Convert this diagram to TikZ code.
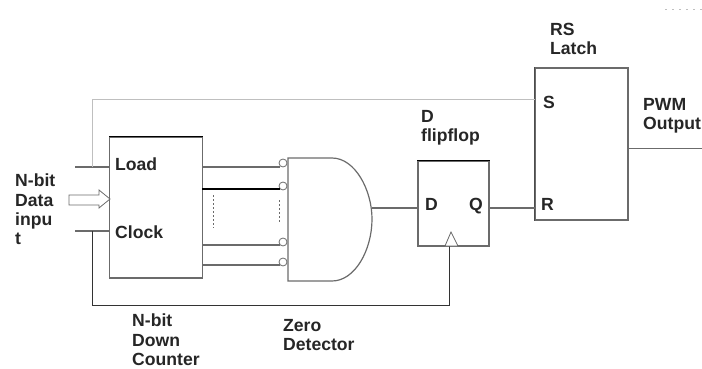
\documentclass[tikz,border=0pt]{standalone}
\usepackage{fontspec}
\setmainfont{Liberation Sans}
\definecolor{wire}{gray}{0.42}
\definecolor{palewire}{gray}{0.75}
\tikzset{
  block/.style = {draw = wire, line width = 1.2pt, minimum width = #1, inner sep = 0pt},
  label/.style = {font = \fontsize{17.6}{19.3}\selectfont\bfseries, align = left, anchor = west, inner sep = 0pt, text = black!85},
  link/.style = {draw = wire, line width = 1.2pt},
  bubble/.style = {circle, draw = wire, fill = white, minimum size = 8pt, inner sep = 0pt, line width = 0.8pt}
}
\begin{document}
\begin{tikzpicture}[x = 1pt, y = -1pt]
      \useasboundingbox (0, 0) rectangle (702, 369);
      \node [block = 92.5pt, minimum height = 141pt] (counter) at (156, 207.5) {};
      \node [block = 71pt, minimum height = 85pt] (flipflop) at (453.5, 203.5) {};
      \node [block = 93pt, minimum height = 152pt] (latch) at (581.5, 144) {};
      \draw [link] (288, 158) coordinate (gatetop) -- (332, 158)
        .. controls (355, 158) and (372, 190) .. (372, 219)
        .. controls (372, 250) and (355, 281) .. (332, 281) -- (288, 281) coordinate (gatebottom) -- cycle;
      \draw [black, line width = 1pt] (counter.north west) -- (counter.north east);
      \draw [black, line width = 1.4pt] (flipflop.north west) -- (flipflop.north east);
      \draw [black!70, line width = 1.4pt] (latch.north west) -- (latch.south west);
      \foreach \name/\y in {one/163, two/186, three/242, four/262}
        \node [bubble] (\name) at (283, \y) {};
      \coordinate (loadpin) at (109.5, 167);
      \coordinate (clockpin) at (109.5, 231);
      \coordinate (loadend) at (75, 167);
      \coordinate (clockend) at (75, 231);
      \coordinate (fbtop) at (92, 100);
      \coordinate (fbbottom) at (92, 305);
      \coordinate (setpin) at (535, 100);
      \coordinate (gateout) at (372, 208);
      \coordinate (dpin) at (418, 208);
      \coordinate (qpin) at (489, 208);
      \coordinate (rpin) at (535, 208);
      \coordinate (outpin) at (628, 148);
      \coordinate (outend) at (702, 148);
      \coordinate (clkpin) at (449, 246);
      \draw [link] (loadend) -- (loadpin);
      \draw [link] (clockend) -- (clockpin);
      \draw [link] (202, 167) -- (one.south west |- 0, 167);
      \draw [black, line width = 1.2pt] (202, 189) -- (two.south west |- 0, 189);
      \draw [link] (202, 245) -- (three.south west |- 0, 245);
      \draw [link] (202, 265) -- (four.south west |- 0, 265);
      \draw [palewire, line width = 1pt] (fbbottom |- loadend) -- (fbtop) -- (setpin);
      \draw [black!80, line width = 0.8pt] (fbbottom |- clockend) -- (fbbottom) -- (fbbottom -| clkpin) -- (clkpin);
      \draw [link] (gateout) -- (dpin);
      \draw [link] (qpin) -- (rpin);
      \draw [link, line width = 0.7pt] (outpin) -- (outend);
      \draw [fill = white, draw = wire, line width = 0.8pt] (445, 246) -- (451, 232) -- (458, 246) -- cycle;
      \draw [draw = wire, line width = 0.8pt] (69, 195) -- (99, 195) -- (99, 190) -- (110, 199) -- (99, 208) -- (99, 205) -- (69, 205) -- cycle;
      \draw [dash pattern = on 2pt off 2pt, wire, line width = 1pt] (213, 195) -- (213, 228);
      \draw [dash pattern = on 2pt off 2pt, wire, line width = 1pt] (279, 200) -- (279, 223);
      \draw [dash pattern = on 2pt off 5pt, palewire, line width = 1pt] (665, 10) -- (702, 10);
      \node [label] (loadtext) at (115, 164) {Load};
      \node [label] (clocktext) at (115, 232) {Clock};
      \node [label, anchor = north west] (datatext) at (15, 174) {N-bit\\Data\\inpu\\t};
      \node [label, anchor = north west] (countertext) at (132, 314) {N-bit\\Down\\Counter};
      \node [label, anchor = north west] (zerotext) at (283, 319) {Zero\\Detector};
      \node [label, anchor = north west] (fftext) at (421, 110) {D\\flipflop};
      \node [label, anchor = north west] (latchtext) at (550, 23) {RS\\Latch};
      \node [label, anchor = north west] (pwmtext) at (643, 98) {PWM\\Output};
      \node [label] (dtext) at (425, 204) {D};
      \node [label] (qtext) at (469, 206) {Q};
      \node [label] (stext) at (543, 102) {S};
      \node [label] (rtext) at (541, 204) {R};
    \end{tikzpicture}
\end{document}
